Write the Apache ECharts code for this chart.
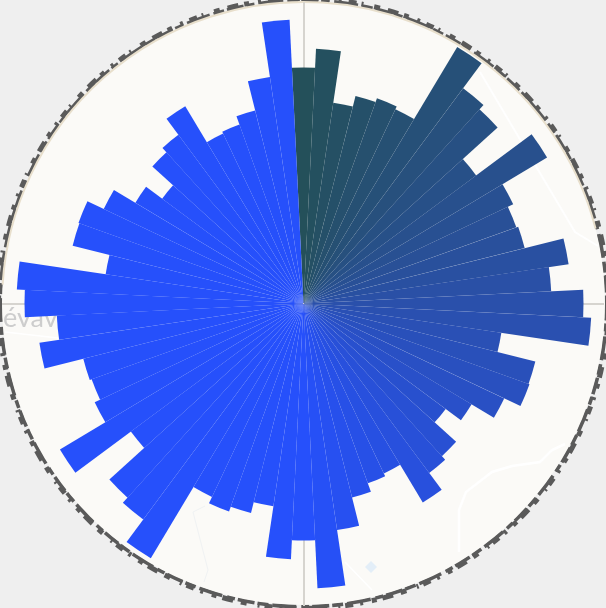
<!DOCTYPE html>
<html>
<head>
<meta charset="utf-8">
<style>
html, body { margin: 0; padding: 0; background: #efefef; }
#charts { width: 606px; height: 608px; }
</style>
<script src="https://cdn.jsdelivr.net/npm/echarts@6/dist/echarts.min.js"></script>
</head>
<body>
<div id="charts"></div>
<script>
var values = [
    236, 255, 203, 214, 218, 215, 299, 268, 262, 215, 284, 232, 226, 228, 268, 248,
    280, 288, 200, 239, 240, 222, 196, 177, 206, 211, 232, 188, 191, 200, 229, 285,
    237, 256, 205, 216, 221, 214, 297, 269, 262, 215, 284, 231, 225, 227, 267, 247,
    279, 287, 200, 238, 239, 221, 196, 176, 204, 210, 230, 188, 190, 199, 229, 284
];
var categories = values.map(function (v, i) { return String(i); });
var barColors = ['#24505a', '#2a50ab', '#2650fb'];

var cx = 303.5;
var cy = 303.5;

function initCharts() {
    var myChart = echarts.init(document.getElementById('charts'));
    var option = {
        animation: false,
        backgroundColor: '#efefef',
        polar: {
            center: [cx, cy],
            radius: [0, 300]
        },
        angleAxis: {
            show: false,
            type: 'category',
            data: categories,
            startAngle: 90 + 360 / values.length / 2
        },
        radiusAxis: {
            show: false,
            type: 'value',
            min: 0,
            max: 300
        },
        // map underneath: rough edge, disc, border, crosshair, roads, place name
        graphic: [
            { type: 'circle', z: -20, shape: { cx: cx, cy: cy, r: 305 },
              style: { fill: 'none', stroke: '#5a5a5a', lineWidth: 5, lineDash: [5, 9, 3, 7, 8, 5, 2, 11, 6, 8, 11, 6] } },
            { type: 'circle', z: -19, shape: { cx: cx, cy: cy, r: 303 },
              style: { fill: 'none', stroke: '#5a5a5a', lineWidth: 4, lineDash: [17, 3, 8, 5, 24, 4, 11, 3] } },
            { type: 'circle', z: -18, shape: { cx: cx, cy: cy, r: 301.5 },
              style: { fill: '#fbfaf7', stroke: 'none' } },
            { type: 'arc', z: -17, shape: { cx: cx, cy: cy, r: 301.5, startAngle: Math.PI * 1.02, endAngle: Math.PI * 1.92 },
              style: { fill: 'none', stroke: '#e8dfcc', lineWidth: 2 } },
            { type: 'polyline', z: -16, shape: { points: [[480, 72], [575, 232], [598, 246]] },
              style: { fill: 'none', stroke: '#ffffff', lineWidth: 2 } },
            { type: 'polyline', z: -16, shape: { points: [[459, 552], [459, 510], [466, 492], [492, 472], [512, 466], [540, 462], [552, 450], [565, 444]] },
              style: { fill: 'none', stroke: '#ffffff', lineWidth: 2.5 } },
            { type: 'polyline', z: -16, shape: { points: [[5, 332], [58, 338]] },
              style: { fill: 'none', stroke: '#ffffff', lineWidth: 1.5 } },
            { type: 'polyline', z: -16, shape: { points: [[345, 562], [372, 590]] },
              style: { fill: 'none', stroke: '#ffffff', lineWidth: 1.5 } },
            { type: 'polyline', z: -16, shape: { points: [[205, 506], [193, 512], [208, 570], [204, 582]] },
              style: { fill: 'none', stroke: '#f0f2f3', lineWidth: 1 } },
            { type: 'polygon', z: -16, shape: { points: [[371, 561], [377, 567], [371, 573], [365, 567]] },
              style: { fill: '#e3eef8' } },
            { type: 'rect', z: -15, shape: { x: 303, y: 2, width: 2, height: 604 },
              style: { fill: '#d6d4cf' } },
            { type: 'rect', z: -15, shape: { x: 2, y: 303, width: 602, height: 2 },
              style: { fill: '#d6d4cf' } },
            { type: 'text', z: -14, x: 3, y: 332,
              style: { text: 'évav', fill: '#cdcdcd', font: '27px Lato', textVerticalAlign: 'bottom' } }
        ],
        series: [
            {
                type: 'bar',
                coordinateSystem: 'polar',
                data: values,
                barCategoryGap: 0,
                barGap: 0,
                itemStyle: {
                    color: function (params) {
                        return echarts.color.lerp(Math.min(params.dataIndex / 32, 1), barColors);
                    }
                }
            }
        ]
    };
    myChart.setOption(option);
}

initCharts();
</script>
</body>
</html>
